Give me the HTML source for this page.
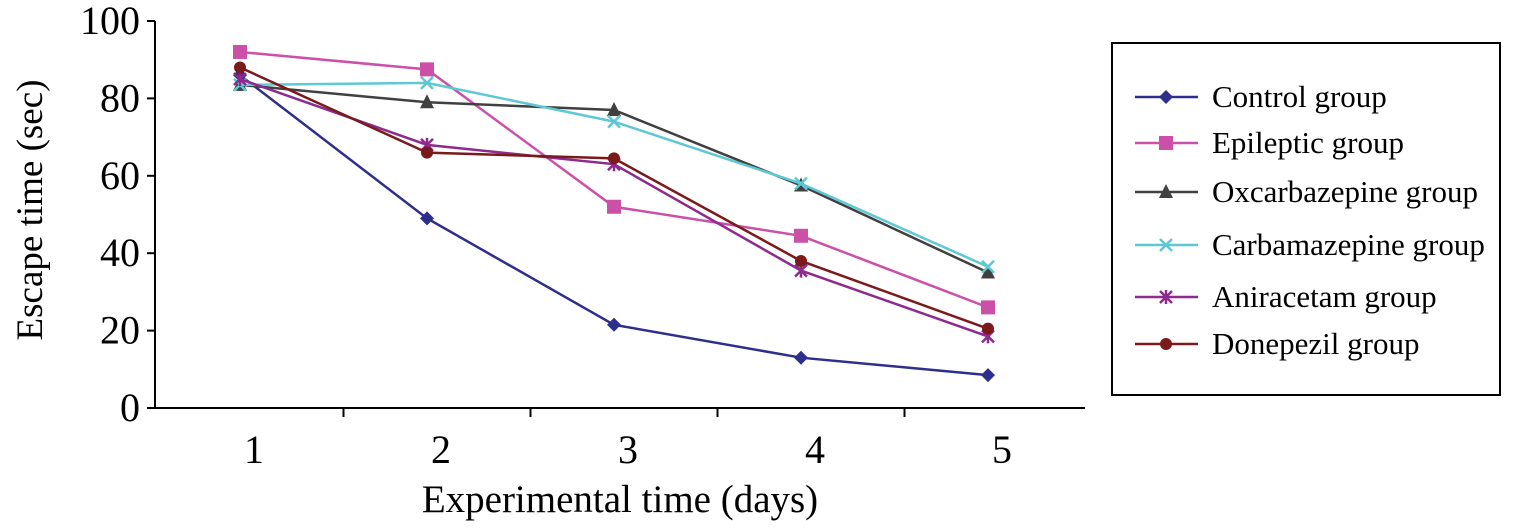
<!DOCTYPE html>
<html><head><meta charset="utf-8"><style>
html,body{margin:0;padding:0;background:#fff;}
svg{display:block;font-family:"Liberation Serif",serif;}
</style></head><body>
<svg id="chart" width="1514" height="531" xmlns="http://www.w3.org/2000/svg">
<g id="axes"></g>
<g id="series"></g>
<g id="legend"></g>
</svg>
<script>
const categories = ["1","2","3","4","5"];
const yTicks = [0,20,40,60,80,100];
const seriesNames = ["Control group","Epileptic group","Oxcarbazepine group","Carbamazepine group","Aniracetam group","Donepezil group"];
const control = [86,49,21.5,13,8.5];
const epileptic = [92,87.5,52,44.5,26];
const oxcarb = [83.5,79,77,57.5,35];
const carba = [83.5,84,74,58,36.5];
const aniracetam = [85,68,63,35.5,18.5];
const donepezil = [88,66,64.5,38,20.5];
const seriesValues = [control,epileptic,oxcarb,carba,aniracetam,donepezil];
const colors = ["#2e2e8c","#cc4fa8","#404040","#5ec8d4","#8e2a8e","#7a1a1a"];
const markers = ["diamond","square","triangle","x","star","circle"];

const NS="http://www.w3.org/2000/svg";
const x0=155,x1=1085,y0=408,y1=21;
const yS=v=>y0-(v-0)/100*(y0-y1);
const step=187;
const xS=i=>240+step*i;
function mk(tag,attrs,parent){const e=document.createElementNS(NS,tag);for(const k in attrs)e.setAttribute(k,attrs[k]);parent.appendChild(e);return e;}
const axes=document.getElementById('axes');
let a=mk('line',{x1:x0,y1:y1,x2:x0,y2:y0,stroke:'#000','stroke-width':2},axes);

a=mk('line',{x1:x0,y1:y0,x2:x1,y2:y0,stroke:'#000','stroke-width':2},axes);

yTicks.forEach(t=>{
 const y=yS(t);
 const l=mk('line',{x1:x0-8,y1:y,x2:x0,y2:y,stroke:'#000','stroke-width':2},axes);
 
 const tx=mk('text',{x:x0-15,y:y+13,'text-anchor':'end','font-size':40},axes);tx.textContent=t;
 
});
for(let i=1;i<categories.length;i++){
 const x=xS(i)-step/2+10;
 const l=mk('line',{x1:x,y1:y0,x2:x,y2:y0+9,stroke:'#000','stroke-width':2},axes);
 
}
categories.forEach((c,i)=>{
 const tx=mk('text',{x:xS(i)+14,y:y0+55,'text-anchor':'middle','font-size':40},axes);tx.textContent=c;
 
});
let t=mk('text',{x:620,y:512,'text-anchor':'middle','font-size':39},axes);t.textContent="Experimental time (days)";

t=mk('text',{x:0,y:0,'text-anchor':'middle','font-size':37,transform:'translate(42,210) rotate(-90)'},axes);t.textContent="Escape  time  (sec)";


function marker(type,x,y,c,g){
 let e;
 if(type==='diamond')e=mk('polygon',{points:`${x},${y-7} ${x+7},${y} ${x},${y+7} ${x-7},${y}`,fill:c},g);
 else if(type==='square')e=mk('rect',{x:x-7,y:y-7,width:14,height:14,fill:c},g);
 else if(type==='triangle')e=mk('polygon',{points:`${x},${y-8} ${x+7},${y+6} ${x-7},${y+6}`,fill:c},g);
 else if(type==='x')e=mk('path',{d:`M${x-6},${y-6}L${x+6},${y+6}M${x-6},${y+6}L${x+6},${y-6}`,stroke:c,'stroke-width':2.5},g);
 else if(type==='star')e=mk('path',{d:`M${x-6},${y-6}L${x+6},${y+6}M${x-6},${y+6}L${x+6},${y-6}M${x},${y-7}L${x},${y+7}`,stroke:c,'stroke-width':2.5},g);
 else e=mk('circle',{cx:x,cy:y,r:6,fill:c},g);
 return e;
}
const sg=document.getElementById('series');
seriesValues.forEach((vals,s)=>{
 const g=mk('g',{},sg);
 
 const pl=mk('polyline',{points:vals.map((v,i)=>xS(i)+','+yS(v)).join(' '),fill:'none',stroke:colors[s],'stroke-width':2.5},g);
 
 vals.forEach((v,i)=>{const m=marker(markers[s],xS(i),yS(v),colors[s],g);
  });
});
const lg=document.getElementById('legend');
const box=mk('rect',{x:1112,y:43,width:388,height:352,fill:'#fff',stroke:'#000','stroke-width':2},lg);

const ly=[97,143,192,245,297,344];
seriesNames.forEach((n,s)=>{
 const g=mk('g',{},lg);
 
 mk('line',{x1:1135,y1:ly[s],x2:1198,y2:ly[s],stroke:colors[s],'stroke-width':2.5},g);
 marker(markers[s],1166,ly[s],colors[s],g);
 const tx=mk('text',{x:1212,y:ly[s]+10,'font-size':31},g);tx.textContent=n;
});
</script>
</body></html>
